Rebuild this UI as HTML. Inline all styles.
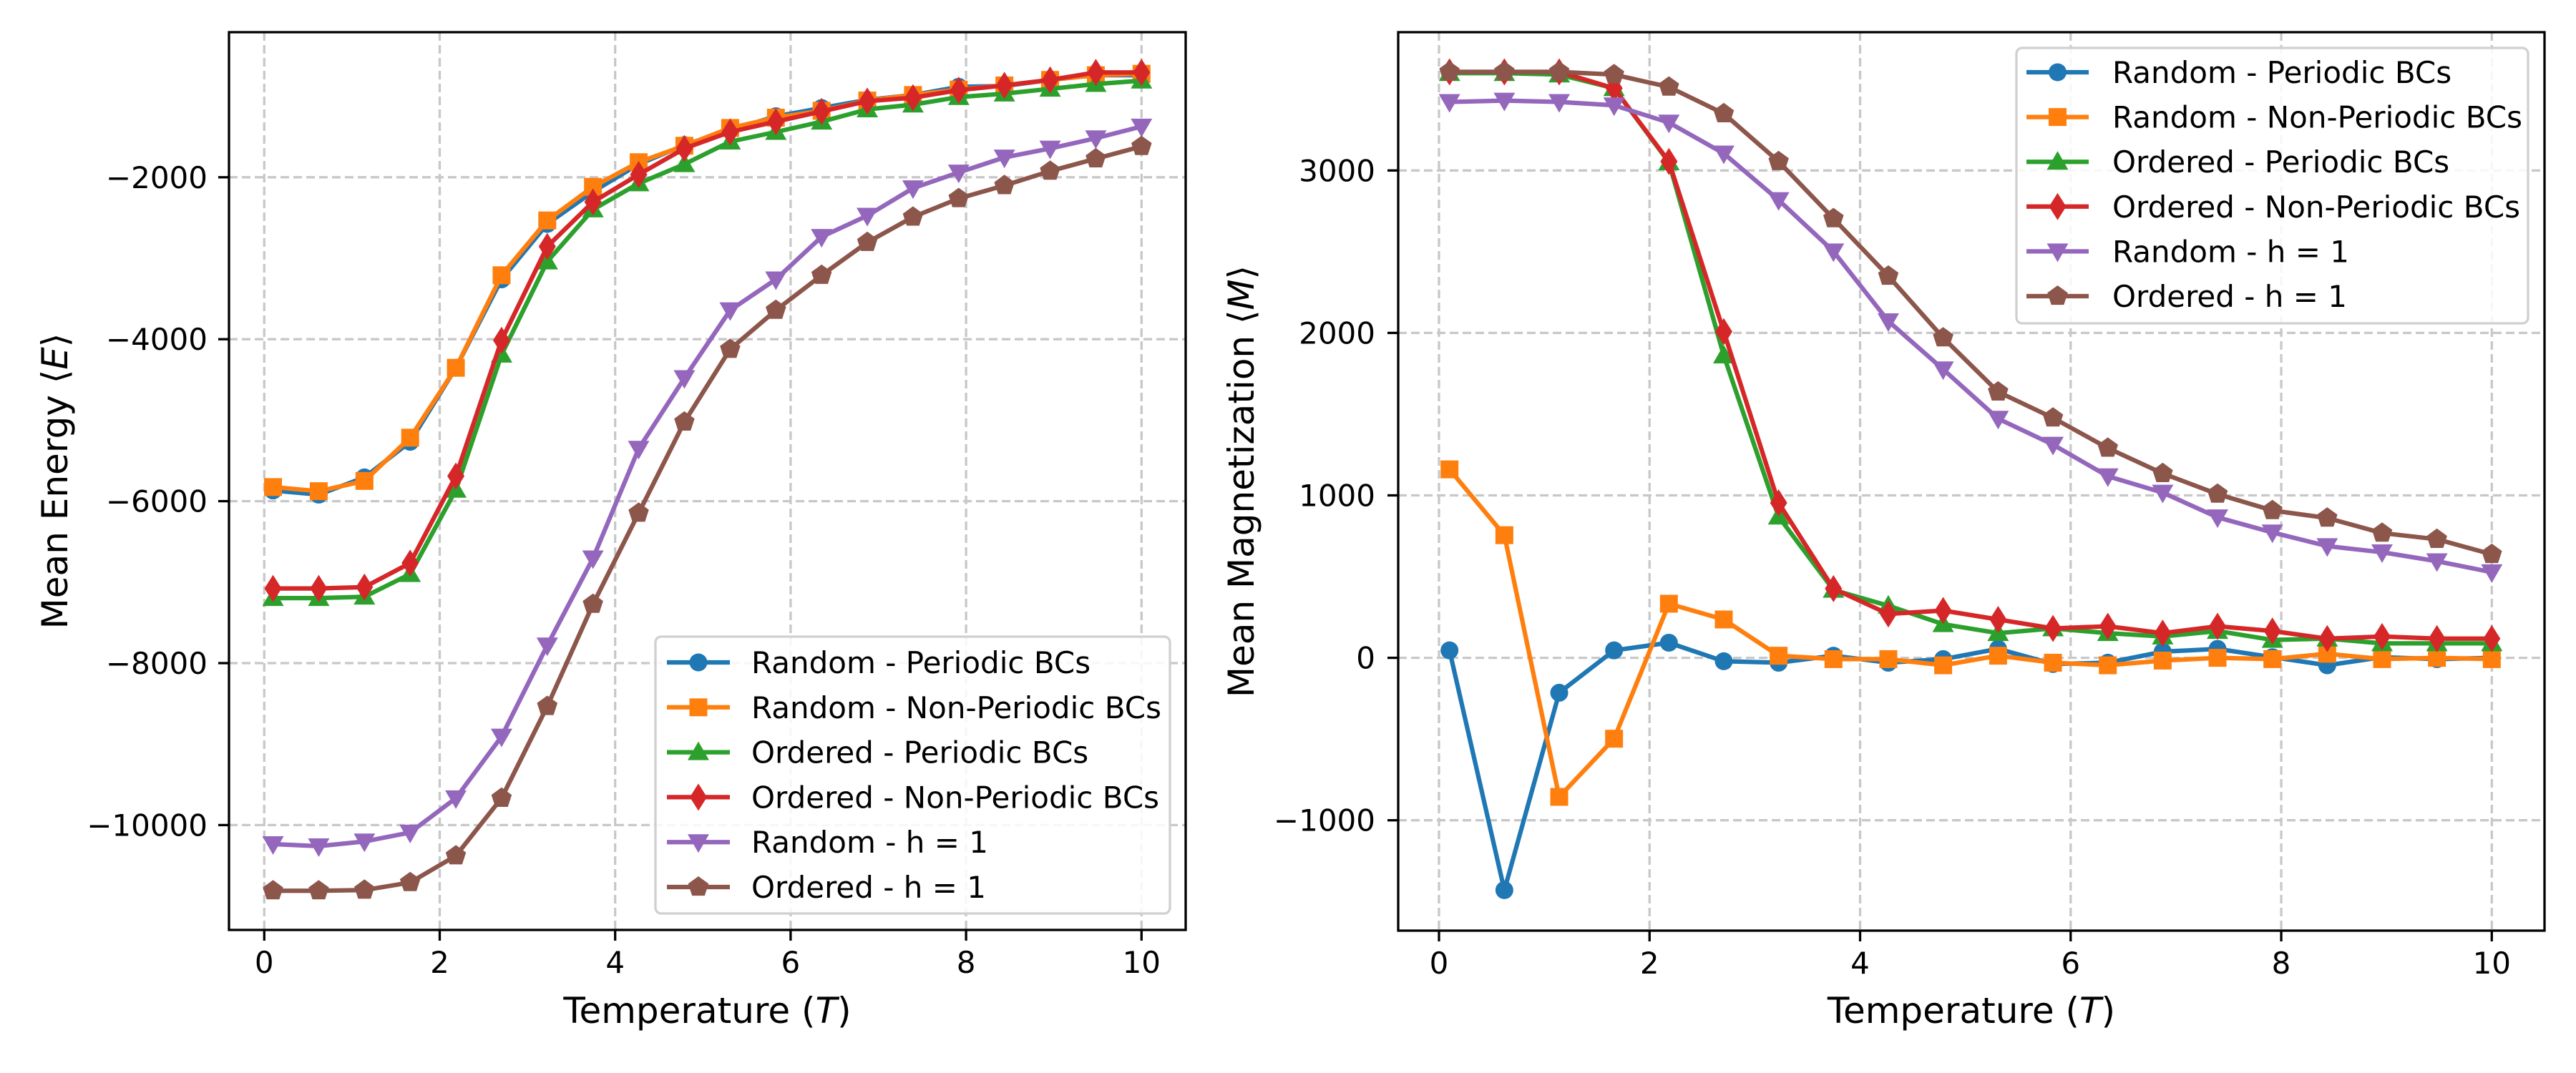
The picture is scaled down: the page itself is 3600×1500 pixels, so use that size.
<!DOCTYPE html>
<html><head><meta charset="utf-8"><style>
html,body{margin:0;padding:0;background:#fff}
svg{display:block;font-family:"DejaVu Sans","Liberation Sans",sans-serif}
</style></head><body>
<svg id="fig" width="3600" height="1500" viewBox="0 0 3600 1500" xmlns="http://www.w3.org/2000/svg">
<rect width="3600" height="1500" fill="#fff"/>
</svg>
<script>
const temps = [0.1,0.621,1.142,1.663,2.184,2.705,3.226,3.747,4.268,4.789,5.311,5.832,6.353,6.874,7.395,7.916,8.437,8.958,9.479,10];
const labels = ["Random - Periodic BCs","Random - Non-Periodic BCs","Ordered - Periodic BCs","Ordered - Non-Periodic BCs","Random - h = 1","Ordered - h = 1"];
const colors = ["#1f77b4","#ff7f0e","#2ca02c","#d62728","#9467bd","#8c564b"];
const markers = ["circle","square","triup","diamond","tridown","pentagon"];
const energyRP = [-5868,-5919,-5707,-5267,-4353,-3261,-2576,-2178,-1839,-1602,-1416,-1247,-1145,-1044,-984,-883,-874,-798,-739,-739];
const energyRN = [-5826,-5877,-5750,-5216,-4353,-3210,-2533,-2118,-1814,-1611,-1391,-1264,-1179,-1052,-984,-917,-866,-798,-739,-722];
const energyOP = [-7197,-7197,-7180,-6901,-5860,-4192,-3041,-2398,-2076,-1839,-1560,-1441,-1314,-1162,-1103,-1010,-967,-908,-849,-807];
const energyON = [-7078,-7078,-7061,-6765,-5690,-4014,-2855,-2305,-1966,-1645,-1441,-1314,-1187,-1060,-1018,-925,-866,-798,-705,-705];
const energyRH = [-10235,-10261,-10202,-10092,-9668,-8907,-7781,-6706,-5352,-4480,-3642,-3261,-2736,-2474,-2135,-1941,-1755,-1645,-1518,-1374];
const energyOH = [-10811,-10811,-10803,-10709,-10379,-9668,-8534,-7273,-6147,-5022,-4124,-3642,-3210,-2804,-2491,-2262,-2102,-1924,-1771,-1619];
const magRP = [46,-1430,-215,46,93,-21,-30,13,-30,-8,55,-38,-30,38,55,4,-46,4,-8,0];
const magRN = [1160,755,-856,-498,333,236,13,-8,-8,-46,13,-30,-46,-17,0,-8,25,-8,0,-8];
const magOP = [3599,3599,3590,3506,3050,1861,869,418,321,207,152,181,152,131,165,110,118,89,89,89];
const magON = [3607,3607,3607,3506,3055,2008,954,426,270,291,236,181,194,152,194,165,118,131,118,118];
const magRH = [3422,3430,3422,3401,3295,3105,2818,2502,2072,1776,1472,1312,1118,1017,865,772,688,650,595,527];
const magOH = [3607,3607,3607,3590,3514,3350,3055,2704,2350,1970,1637,1477,1291,1135,1008,907,861,768,730,637];
const xTicks = [0,2,4,6,8,10];
const eTicks = [-2000,-4000,-6000,-8000,-10000];
const mTicks = [3000,2000,1000,0,-1000];

const NS="http://www.w3.org/2000/svg";
const fig=document.getElementById('fig');
function el(tag,attrs,parent){const e=document.createElementNS(NS,tag);for(const k in attrs)e.setAttribute(k,attrs[k]);(parent||fig).appendChild(e);return e;}
function fmt(v){return v<0?"\u2212"+Math.abs(v):String(v);}

function markerShape(g,type,cx,cy,color){
  let m;
  if(type==="circle"){m=el('circle',{cx:cx,cy:cy,r:12.5,fill:color},g);}
  else if(type==="square"){m=el('rect',{x:cx-12.5,y:cy-12.5,width:25,height:25,fill:color},g);}
  else if(type==="triup"){m=el('polygon',{points:`${cx},${cy-15} ${cx+15},${cy+11} ${cx-15},${cy+11}`,fill:color},g);}
  else if(type==="tridown"){m=el('polygon',{points:`${cx},${cy+15} ${cx+15},${cy-11} ${cx-15},${cy-11}`,fill:color},g);}
  else if(type==="diamond"){m=el('polygon',{points:`${cx},${cy-19} ${cx+12},${cy} ${cx},${cy+19} ${cx-12},${cy}`,fill:color},g);}
  else {let p=[];for(let i=0;i<5;i++){const a=-Math.PI/2+i*2*Math.PI/5;p.push((cx+15*Math.cos(a)).toFixed(1)+","+(cy+15*Math.sin(a)).toFixed(1));}
        m=el('polygon',{points:p.join(' '),fill:color},g);}
  return m;
}

function drawPanel(cfg){
  const {L,R,T,B,x0px,x10px,yRefVal,yRefPx,pxPerUnit,yTicks,series,pname,ylabel,ylabelX,tickRight,legend}=cfg;
  const sx=v=>x0px+(x10px-x0px)*v/10;
  const sy=v=>yRefPx-(v-yRefVal)*pxPerUnit;
  const g=el('g',{});
  
  
  // grid
  xTicks.forEach(t=>{const l=el('line',{x1:sx(t),x2:sx(t),y1:T,y2:B,stroke:'#c8c8c8','stroke-width':3.3,'stroke-dasharray':'12,6'},g);
    });
  yTicks.forEach(t=>{const l=el('line',{x1:L,x2:R,y1:sy(t),y2:sy(t),stroke:'#c8c8c8','stroke-width':3.3,'stroke-dasharray':'12,6'},g);
    });
  // series
  series.forEach((s,i)=>{
    const sg=el('g',{},g);
    
    
    const pts=temps.map((t,j)=>sx(t).toFixed(1)+","+sy(s[j]).toFixed(1)).join(' ');
    const pl=el('polyline',{points:pts,fill:'none',stroke:colors[i],'stroke-width':6.25,'stroke-linejoin':'round'},sg);
    
    temps.forEach((t,j)=>{const m=markerShape(sg,markers[i],sx(t),sy(s[j]),colors[i]);
      });
  });
  // spines
  const fr=el('rect',{x:L,y:T,width:R-L,height:B-T,fill:'none',stroke:'#000','stroke-width':3.3},g);
  
  // ticks
  xTicks.forEach(t=>{el('line',{x1:sx(t),x2:sx(t),y1:B,y2:B+15,stroke:'#000','stroke-width':3.3},g);
    const tx=el('text',{x:sx(t),y:B+60,'font-size':42,'text-anchor':'middle',fill:'#000'},g);tx.textContent=fmt(t);
    });
  yTicks.forEach(t=>{el('line',{x1:L-15,x2:L,y1:sy(t),y2:sy(t),stroke:'#000','stroke-width':3.3},g);
    const tx=el('text',{x:tickRight,y:sy(t)+15,'font-size':42,'text-anchor':'end',fill:'#000'},g);tx.textContent=fmt(t);
    });
  // axis labels
  const xl=el('text',{x:(L+R)/2,y:1430,'font-size':50,'text-anchor':'middle',fill:'#000'},g);
  xl.innerHTML='Temperature (<tspan font-style="italic">T</tspan>)';
  
  const yc=(T+B)/2;
  const yl=el('text',{x:ylabelX,y:yc,'font-size':50,'text-anchor':'middle',fill:'#000',transform:`rotate(-90 ${ylabelX} ${yc})`,dy:17},g);
  yl.innerHTML=ylabel;
  
  // legend
  const lg=el('g',{},g);
  
  el('rect',{x:legend.x,y:legend.y,width:legend.w,height:legend.h,rx:8,fill:'#fff','fill-opacity':0.85,stroke:'#d0d0d0','stroke-width':3.3},lg);
  labels.forEach((lab,i)=>{
    const ry=legend.row0+i*legend.dy;
    const e=el('g',{},lg);
    
    el('line',{x1:legend.lx1,x2:legend.lx2,y1:ry,y2:ry,stroke:colors[i],'stroke-width':6.25},e);
    markerShape(e,markers[i],(legend.lx1+legend.lx2)/2,ry,colors[i]);
    const t=el('text',{x:legend.tx,y:ry+15,'font-size':42,fill:'#000'},e);t.textContent=lab;
  });
}

drawPanel({L:320,R:1657,T:45,B:1300,x0px:369.3,x10px:1595.3,yRefVal:-2000,yRefPx:247.8,pxPerUnit:226.4/2000,
  yTicks:eTicks,series:[energyRP,energyRN,energyOP,energyON,energyRH,energyOH],pname:'energy',
  ylabel:'Mean Energy ⟨<tspan font-style="italic">E</tspan>⟩',ylabelX:77,tickRight:290,
  legend:{x:916,y:890,w:719,h:387,row0:926,dy:62.8,lx1:932,lx2:1020,tx:1050}});
drawPanel({L:1954,R:3556,T:45,B:1301,x0px:2011,x10px:3482.3,yRefVal:0,yRefPx:919.6,pxPerUnit:227.1/1000,
  yTicks:mTicks,series:[magRP,magRN,magOP,magON,magRH,magOH],pname:'magnetization',
  ylabel:'Mean Magnetization ⟨<tspan font-style="italic">M</tspan>⟩',ylabelX:1735,tickRight:1922,
  legend:{x:2818,y:67,w:715,h:385,row0:101,dy:62.6,lx1:2832,lx2:2919,tx:2952}});
</script>
</body></html>
